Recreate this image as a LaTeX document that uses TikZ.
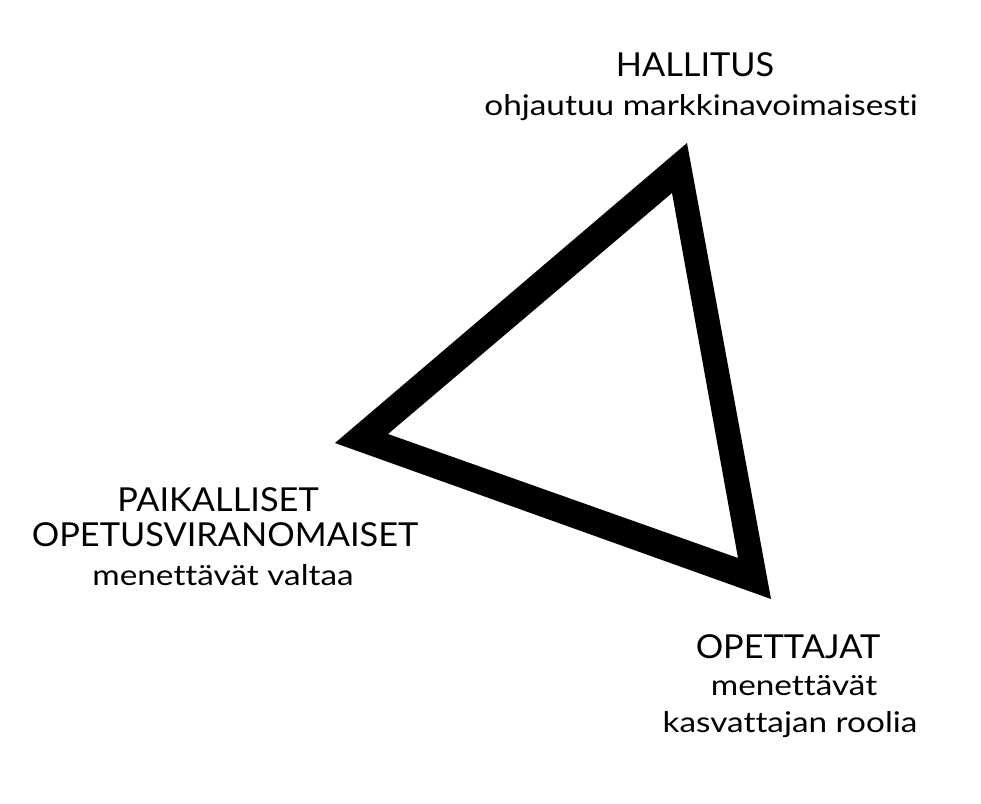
\documentclass[tikz,border=0pt]{standalone}
\usepackage{fontspec}
\setmainfont{Lato}
\newfontfamily\capfont[FakeStretch=1.04,Ligatures=NoCommon]{Lato}
\newfontfamily\lowfont[FakeStretch=1.17,Ligatures=NoCommon]{Lato}
\begin{document}
\begin{tikzpicture}[x=1pt,y=-1pt,
  capline/.style={anchor=base,inner sep=0pt,font=\capfont\fontsize{33}{38}\selectfont},
  lowline/.style={anchor=base,inner sep=0pt,font=\lowfont\fontsize{28.5}{33}\selectfont}]
\useasboundingbox (0,0) rectangle (981,803);
\fill[white] (0,0) rectangle (981,803);
% triangle
\coordinate (t1) at (687,143);
\coordinate (t2) at (335,443);
\coordinate (t3) at (771,599);
\coordinate (i1) at (672,193);
\coordinate (i2) at (388,434);
\coordinate (i3) at (738,558);
\fill[black,even odd rule] (t1) -- (t2) -- (t3) -- cycle (i1) -- (i2) -- (i3) -- cycle;
% labels
\node[capline] (hal) at (695,76) {HALLITUS};
\node[lowline] (halsub) at (701,115) {ohjautuu markkinavoimaisesti};
\node[capline] (pai) at (218,511) {PAIKALLISET};
\node[capline] (ope) at (225,546) {OPETUSVIRANOMAISET};
\node[lowline] (opesub) at (223,585) {menettävät valtaa};
\node[capline] (opt) at (788,658) {OPETTAJAT};
\node[lowline] (optsub1) at (794,695) {menettävät};
\node[lowline] (optsub2) at (790,732) {kasvattajan roolia};
\end{tikzpicture}
\end{document}
